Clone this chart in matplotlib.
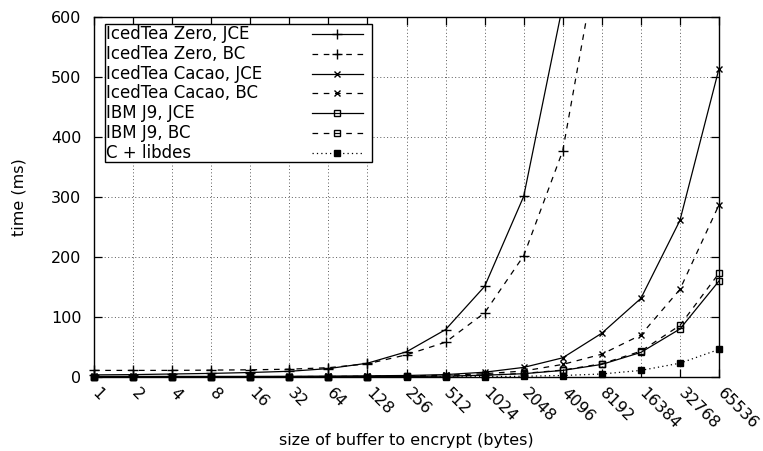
import matplotlib
matplotlib.use("Agg")
import matplotlib.pyplot as plt
from matplotlib.lines import Line2D
from matplotlib.patches import Rectangle
import matplotlib.transforms as mtransforms
import numpy as np

sizes = ["1", "2", "4", "8", "16", "32", "64", "128", "256", "512", "1024",
         "2048", "4096", "8192", "16384", "32768", "65536"]

zero_jce = [3.5, 4, 5, 6, 7.5, 9.5, 14, 23, 42, 79, 151, 301, 620]
zero_bc = [11, 11, 11, 11.5, 12, 13, 15.5, 22, 37, 58, 107, 202, 377, 740]
cacao_jce = [1, 1, 1, 1, 1, 1.2, 1.5, 2, 2.5, 4, 8, 16, 32, 73, 131, 261, 514]
cacao_bc = [0.5, 0.5, 0.5, 0.5, 0.6, 0.7, 0.9, 1.2, 1.8, 3, 5.5, 10, 21, 38, 70, 146, 287]
j9_jce = [0.3, 0.3, 0.3, 0.3, 0.4, 0.4, 0.5, 0.6, 0.9, 1.5, 3, 5.5, 11, 21, 41, 80, 160]
j9_bc = [0.3, 0.3, 0.3, 0.3, 0.4, 0.4, 0.5, 0.6, 0.9, 1.5, 3, 6, 11.5, 22, 43, 86, 173]
libdes = [0.1, 0.1, 0.1, 0.1, 0.1, 0.1, 0.1, 0.1, 0.2, 0.3, 0.6, 1.2, 2.5, 5, 11, 23, 46]

labels = ["IcedTea Zero, JCE", "IcedTea Zero, BC", "IcedTea Cacao, JCE",
          "IcedTea Cacao, BC", "IBM J9, JCE", "IBM J9, BC", "C + libdes"]

plt.rcParams['font.family'] = ['DejaVu Sans']
W, H = 763, 451
fig = plt.figure(figsize=(W/100, H/100), dpi=100)
AX_L, AX_R, AX_T, AX_B = 94, 719, 17, 377
ax = fig.add_axes([AX_L/W, 1-AX_B/H, (AX_R-AX_L)/W, (AX_B-AX_T)/H])

YMAX = 600
DASH = (0, (4.5, 4.5))
series = [
    (zero_jce, dict(ls='-', marker='+', ms=7, mfc='none')),
    (zero_bc, dict(ls=DASH, marker='+', ms=7, mfc='none')),
    (cacao_jce, dict(ls='-', marker='x', ms=5, mfc='none')),
    (cacao_bc, dict(ls=DASH, marker='x', ms=5, mfc='none')),
    (j9_jce, dict(ls='-', marker='s', ms=5, mfc='none')),
    (j9_bc, dict(ls=DASH, marker='s', ms=5, mfc='none')),
    (libdes, dict(ls=(0, (1, 2.5)), marker='s', ms=5, mfc='black')),
]

for vals, st in series:
    x = np.arange(len(vals))
    y = np.array(vals, dtype=float)
    ax.plot(x, y, color='black', lw=0.9, ls=st['ls'], zorder=3)
    keep = y <= YMAX
    ax.plot(x[keep], y[keep], ls='none', marker=st['marker'], ms=st['ms'],
            mew=1.0, mfc=st['mfc'], mec='black', clip_on=False, zorder=4)

ax.set_xlim(0, len(sizes) - 1)
ax.set_ylim(0, YMAX)
ax.set_xticks(np.arange(len(sizes)))
ax.set_xticklabels(sizes)
ax.set_yticks(np.arange(0, 601, 100))

ax.grid(True, color='0.35', lw=0.7, ls=(0, (1, 2.5)))
ax.set_axisbelow(True)
ax.tick_params(direction='in', length=6, width=0.9, top=True, right=True,
               labelsize=11.5)
ax.tick_params(axis='y', pad=9)
for s in ax.spines.values():
    s.set_linewidth(1.0)

offset = mtransforms.ScaledTranslation(6/100, -4/100, fig.dpi_scale_trans)
for lbl in ax.get_xticklabels():
    lbl.set_rotation(-45)
    lbl.set_ha('left')
    lbl.set_va('top')
    lbl.set_rotation_mode('anchor')
    lbl.set_transform(lbl.get_transform() + offset)

ax.set_xlabel("size of buffer to encrypt (bytes)", fontsize=11.5)
ax.xaxis.set_label_coords(0.5, (AX_B - 433) / (AX_B - AX_T))
ax.set_ylabel("time (ms)", fontsize=11.5)
ax.yaxis.set_label_coords((26 - AX_L) / (AX_R - AX_L), 0.5)

# legend drawn as a gnuplot-style key: text left, sample right
def px(xp, yp):
    return ((xp - AX_L) / (AX_R - AX_L), (AX_B - yp) / (AX_B - AX_T))

bx0, by0 = px(105, 162)
bx1, by1 = px(372, 24)
ax.add_patch(Rectangle((bx0, by0), bx1 - bx0, by1 - by0, transform=ax.transAxes,
                       fill=True, facecolor='white', edgecolor='black', lw=1.0,
                       zorder=6, clip_on=False))
for i, ((vals, st), lab) in enumerate(zip(series, labels)):
    yc = 34 + 19.8 * i
    tx, ty = px(106, yc)
    ax.text(tx, ty, lab, transform=ax.transAxes, ha='left', va='center',
            fontsize=12, zorder=7)
    lx0, ly = px(312, yc)
    lx1, _ = px(363, yc)
    mx, _ = px(337, yc)
    ax.add_line(Line2D([lx0, lx1], [ly, ly], transform=ax.transAxes, color='black',
                       lw=0.9, ls=st['ls'], zorder=7, clip_on=False))
    ax.add_line(Line2D([mx], [ly], transform=ax.transAxes, ls='none',
                       marker=st['marker'], ms=st['ms'], mew=1.0, mfc=st['mfc'],
                       mec='black', zorder=8, clip_on=False))

fig.savefig("out.png", dpi=100)
